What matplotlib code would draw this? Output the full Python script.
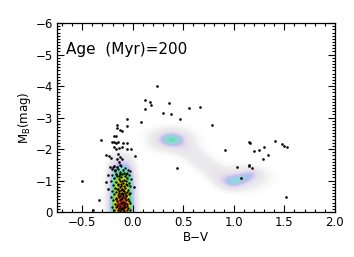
import numpy as np
import matplotlib.pyplot as plt
from matplotlib.colors import LinearSegmentedColormap
from matplotlib.ticker import MultipleLocator

# observed stars: main sequence cluster (B-V, M_B)
ms_bv = [-0.20, -0.15, -0.12, -0.08, -0.05, -0.18, -0.13, -0.10, -0.06, -0.03,
         -0.21, -0.16, -0.11, -0.08, -0.04, -0.19, -0.14, -0.12, -0.09, -0.06, -0.02,
         -0.22, -0.17, -0.13, -0.10, -0.07, -0.04, -0.20, -0.15, -0.12, -0.09, -0.06, -0.03,
         -0.18, -0.16, -0.13, -0.11, -0.08, -0.05, -0.21, -0.17, -0.14, -0.11, -0.09, -0.06, -0.03,
         -0.19, -0.15, -0.12, -0.10, -0.07, -0.04, -0.22, -0.17, -0.14, -0.11, -0.08, -0.05,
         -0.20, -0.16, -0.13, -0.10, -0.07, -0.04, -0.18, -0.15, -0.12, -0.09, -0.06, -0.03,
         -0.21, -0.17, -0.13, -0.11, -0.08, -0.05, -0.19, -0.15, -0.12, -0.09, -0.06, -0.03,
         -0.14, -0.10, -0.12, -0.08, -0.16, -0.10, -0.13, -0.07, -0.15, -0.11, -0.09, -0.14,
         -0.07, -0.17, -0.06, -0.12, -0.10, -0.15, -0.08, -0.13, -0.11, -0.14, -0.09, -0.12, -0.07]
ms_mag = [-1.42, -1.38, -1.45, -1.40, -1.35, -1.30, -1.27, -1.33, -1.25, -1.29,
          -1.18, -1.15, -1.20, -1.13, -1.17, -1.08, -1.05, -1.10, -1.02, -1.07, -1.04,
          -0.98, -0.95, -0.99, -0.93, -0.97, -0.92, -0.87, -0.85, -0.89, -0.83, -0.86, -0.82,
          -0.77, -0.73, -0.79, -0.74, -0.76, -0.71, -0.66, -0.63, -0.68, -0.62, -0.66, -0.64, -0.61,
          -0.56, -0.54, -0.58, -0.52, -0.55, -0.57, -0.47, -0.45, -0.49, -0.43, -0.46, -0.42,
          -0.37, -0.35, -0.39, -0.33, -0.37, -0.34, -0.27, -0.24, -0.29, -0.23, -0.26, -0.28,
          -0.17, -0.15, -0.19, -0.13, -0.17, -0.14, -0.07, -0.05, -0.09, -0.04, -0.08, -0.06,
          -0.60, -0.70, -0.40, -0.30, -0.20, -0.10, -0.02, -0.50, -0.90, -1.00, -1.25, -1.15,
          -0.90, -0.40, -0.20, -0.82, -0.58, -0.72, -0.62, -0.50, -0.30, -0.12, -0.15, -0.70, -1.20]

# observed stars: upper main sequence, blue loop and red giants
top_bv = [-0.315, -0.153, -0.153, -0.127, -0.058, -0.060, -0.107, -0.186, -0.163, -0.210,
          -0.190, -0.166, -0.150, -0.097, -0.055, -0.190, -0.170, -0.140, -0.110, -0.055,
          -0.020, -0.265, -0.235, -0.220, 0.020, -0.150, -0.130, -0.160, -0.105, -0.140,
          -0.190, -0.210, -0.175, -0.152, -0.125, -0.163, -0.130, -0.245, 0.012, -0.250,
          -0.265, -0.226, -0.506, -0.335, -0.397,
          0.242, 0.120, 0.170, 0.177, 0.117, 0.358, 0.296, 0.375, 0.553, 0.667,
          0.470, 0.084, 0.783, 0.434, 0.912, 1.027, 1.067, 1.150, 1.160, 1.146,
          1.152, 1.180, 1.200, 1.245, 1.290, 1.300, 1.340, 1.406, 1.480, 1.495,
          1.530, 1.515]
top_mag = [-2.28, -2.78, -2.68, -2.60, -2.95, -2.73, -2.57, -2.43, -2.42, -2.21,
           -2.21, -2.18, -2.21, -2.20, -2.18, -2.07, -1.99, -2.02, -2.06, -2.00,
           -1.99, -1.80, -1.77, -1.73, -1.78, -1.85, -1.76, -1.67, -1.69, -1.59,
           -1.46, -1.36, -1.34, -1.43, -1.50, -1.21, -1.21, -0.73, -0.80, -1.17,
           -0.96, -1.44, -0.97, -0.38, -0.06,
           -4.00, -3.56, -3.50, -3.39, -3.26, -3.45, -3.13, -3.10, -3.32, -3.33,
           -2.94, -2.86, -2.75, -1.39, -1.97, -1.44, -1.09, -2.21, -2.20, -1.50,
           -1.46, -1.39, -1.95, -1.97, -1.70, -2.05, -1.81, -2.25, -2.15, -2.10,
           -2.05, -0.49]

# model density (Hess diagram) as smooth components: B-V, M_B, widths, weight
dens_bv = [-0.155, -0.065, -0.155, -0.065, -0.155, -0.065, -0.155, -0.065, -0.10,
           0.38, 0.38,
           0.48, 0.56, 0.64, 0.72, 0.80, 0.88, 0.95,
           1.00, 1.10, 1.18, 1.10]
dens_mag = [-0.10, -0.10, -0.50, -0.50, -0.90, -0.90, -1.30, -1.30, -0.30,
            -2.30, -2.30,
            -2.12, -1.93, -1.72, -1.52, -1.32, -1.13, -1.00,
            -0.95, -1.08, -1.22, -1.08]
dens_sbv = [0.047, 0.047, 0.047, 0.047, 0.047, 0.047, 0.047, 0.047, 0.035,
            0.075, 0.13,
            0.07, 0.07, 0.07, 0.07, 0.07, 0.07, 0.07,
            0.07, 0.07, 0.05, 0.15]
dens_smag = [0.28, 0.28, 0.28, 0.28, 0.28, 0.28, 0.28, 0.28, 0.20,
             0.13, 0.22,
             0.15, 0.15, 0.15, 0.15, 0.15, 0.15, 0.15,
             0.13, 0.12, 0.10, 0.24]
dens_w = [0.55, 0.55, 0.24, 0.24, 0.35, 0.35, 0.16, 0.16, 0.15,
          0.26, 0.10,
          0.045, 0.04, 0.04, 0.04, 0.04, 0.045, 0.05,
          0.17, 0.14, 0.09, 0.06]

cmap = LinearSegmentedColormap.from_list('hess', [
    (0.00, '#ffffff'), (0.03, '#ececec'), (0.07, '#e8e6ec'), (0.12, '#e6d8ee'),
    (0.20, '#b6beee'), (0.31, '#84e0d6'), (0.45, '#50d060'), (0.60, '#e6e020'),
    (0.75, '#f8a000'), (0.90, '#f04010'), (1.00, '#d01010')])

gx = np.linspace(-0.75, 2.0, 550)
gy = np.linspace(-6.0, 0.0, 600)
X, Y = np.meshgrid(gx, gy)
Z = np.zeros_like(X)
for bv, mag, sb, sm, w in zip(dens_bv, dens_mag, dens_sbv, dens_smag, dens_w):
    Z += w * np.exp(-0.5 * (((X - bv) / sb) ** 2 + ((Y - mag) / sm) ** 2))

plt.rcParams['font.family'] = 'DejaVu Sans'
fig = plt.figure(figsize=(3.54, 2.57), dpi=100)
ax = fig.add_axes([0.161, 0.175, 0.785, 0.735])

ax.imshow(Z, origin='lower', extent=(-0.75, 2.0, -6.0, 0.0), aspect='auto',
          cmap=cmap, vmin=0, vmax=1, interpolation='bilinear')
ax.plot(ms_bv, ms_mag, 'o', color='black', ms=1.7, mew=0)
ax.plot(top_bv, top_mag, 'o', color='black', ms=1.9, mew=0)

ax.set_xlim(-0.75, 2.0)
ax.set_ylim(0.0, -6.0)
ax.xaxis.set_major_locator(MultipleLocator(0.5))
ax.xaxis.set_minor_locator(MultipleLocator(0.1))
ax.yaxis.set_major_locator(MultipleLocator(1))
ax.yaxis.set_minor_locator(MultipleLocator(0.1))
ax.set_xticks([-0.5, 0.0, 0.5, 1.0, 1.5, 2.0])
ax.set_xticklabels(['\u22120.5', '0.0', '0.5', '1.0', '1.5', '2.0'])
ax.set_yticks([0, -1, -2, -3, -4, -5, -6])
ax.set_yticklabels(['0', '\u22121', '\u22122', '\u22123', '\u22124', '\u22125', '\u22126'])
ax.tick_params(which='both', direction='in', top=True, right=True,
               labelsize=8.5, width=0.8, pad=3)
ax.tick_params(which='major', length=5)
ax.tick_params(which='minor', length=2.5)
for s in ax.spines.values():
    s.set_linewidth(0.9)

ax.set_xlabel('B\u2212V', fontsize=8.5, labelpad=1)
ax.set_ylabel('M$_{\\rm B}$(mag)', fontsize=8.5, labelpad=2)
ax.text(-0.66, -5.17, 'Age  (Myr)=200', fontsize=11, va='center', ha='left')

fig.savefig('out.png', dpi=100)
